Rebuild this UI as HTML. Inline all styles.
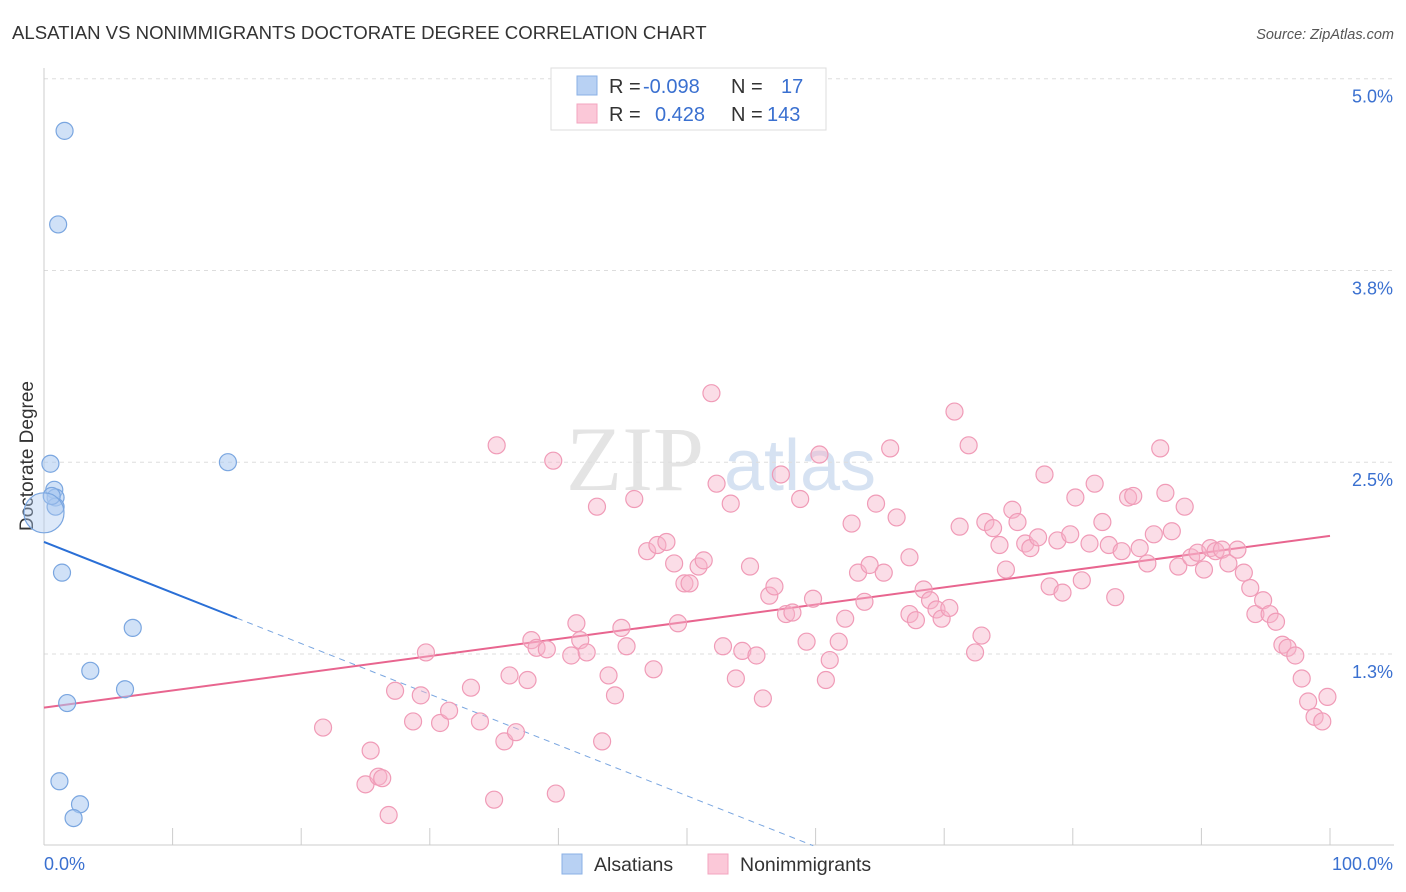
<!DOCTYPE html>
<html><head><meta charset="utf-8"><style>
body{margin:0;background:#fff;font-family:"Liberation Sans",sans-serif;}
svg{display:block}
</style></head><body>
<svg id="c" width="1406" height="892" xmlns="http://www.w3.org/2000/svg">
<text x="12" y="39" font-size="18.6" fill="#333">ALSATIAN VS NONIMMIGRANTS DOCTORATE DEGREE CORRELATION CHART</text>
<text x="1394" y="39" font-size="14.5" fill="#555" text-anchor="end" font-style="italic">Source: ZipAtlas.com</text>
<text x="33" y="456" font-size="19" fill="#333" text-anchor="middle" transform="rotate(-90 33 456)">Doctorate Degree</text>
<text x="635" y="490" font-size="92" fill="#e4e4e4" font-family="Liberation Serif,serif" text-anchor="middle">ZIP</text>
<text x="800" y="490" font-size="72" fill="#d6e2f2" text-anchor="middle">atlas</text>
<g id="grid"></g><g id="axes"></g><g id="lines"></g><g id="pts"></g>
<g>
<rect x="551" y="68" width="275" height="62" fill="#fff" stroke="#ddd"/>
<rect x="577" y="76" width="20" height="19" fill="#b8d1f3" stroke="#8ab0e6"/>
<rect x="577" y="104" width="20" height="19" fill="#fbc8d8" stroke="#f3a5bf"/>
<text x="609" y="93" font-size="20" fill="#333">R = <tspan x="643" fill="#3a70d0">-0.098</tspan></text>
<text x="731" y="93" font-size="20" fill="#333">N = <tspan x="781" fill="#3a70d0">17</tspan></text>
<text x="609" y="121" font-size="20" fill="#333">R = <tspan x="655" fill="#3a70d0">0.428</tspan></text>
<text x="731" y="121" font-size="20" fill="#333">N = <tspan x="767" fill="#3a70d0">143</tspan></text>
</g>
<g>
<rect x="562" y="854" width="20" height="20" fill="#b8d1f3" stroke="#8ab0e6"/>
<text x="594" y="871" font-size="19.5" fill="#333">Alsatians</text>
<rect x="708" y="854" width="20" height="20" fill="#fbc8d8" stroke="#f3a5bf"/>
<text x="740" y="871" font-size="19.5" fill="#333">Nonimmigrants</text>
</g>
</svg>
<script>
const blueX=[1.6,1.1,0.5,0.8,0.9,0.9,0.6,0.0,14.3,1.4,6.9,3.6,6.3,1.8,1.2,2.8,2.3];
const blueY=[4.66,4.05,2.49,2.32,2.27,2.21,2.28,2.17,2.50,1.78,1.42,1.14,1.02,0.93,0.42,0.27,0.18];
const pinkX=[21.7,25.4,25.0,26.0,26.3,26.8,27.3,28.7,29.3,29.7,30.8,31.5,33.2,33.9,35.0,35.2,35.8,36.2,36.7,37.6,37.9,38.3,39.1,39.6,39.8,41.0,41.4,41.7,42.2,43.0,43.4,43.9,44.4,44.9,45.3,45.9,46.9,47.4,47.7,48.4,49.0,49.3,49.8,50.2,50.9,51.3,51.9,52.3,52.8,53.4,53.8,54.3,54.9,55.4,55.9,56.4,56.8,57.3,57.7,58.2,58.8,59.3,59.8,60.3,60.8,61.1,61.8,62.3,62.8,63.3,63.8,64.2,64.7,65.3,65.8,66.3,67.3,67.3,67.8,68.4,68.9,69.4,69.8,70.4,70.8,71.2,71.9,72.4,72.9,73.2,73.8,74.3,74.8,75.3,75.7,76.3,76.7,77.3,77.8,78.2,78.8,79.2,79.8,80.2,80.7,81.3,81.7,82.3,82.8,83.3,83.8,84.3,84.7,85.2,85.8,86.3,86.8,87.2,87.7,88.2,88.7,89.2,89.7,90.2,90.7,91.1,91.6,92.1,92.8,93.3,93.8,94.2,94.8,95.3,95.8,96.3,96.7,97.3,97.8,98.3,98.8,99.4,99.8];
const pinkY=[0.77,0.62,0.40,0.45,0.44,0.20,1.01,0.81,0.98,1.26,0.80,0.88,1.03,0.81,0.30,2.61,0.68,1.11,0.74,1.08,1.34,1.29,1.28,2.51,0.34,1.24,1.45,1.34,1.26,2.21,0.68,1.11,0.98,1.42,1.30,2.26,1.92,1.15,1.96,1.98,1.84,1.45,1.71,1.71,1.82,1.86,2.95,2.36,1.30,2.23,1.09,1.27,1.82,1.24,0.96,1.63,1.69,2.42,1.51,1.52,2.26,1.33,1.61,2.55,1.08,1.21,1.33,1.48,2.10,1.78,1.59,1.83,2.23,1.78,2.59,2.14,1.51,1.88,1.47,1.67,1.60,1.54,1.48,1.55,2.83,2.08,2.61,1.26,1.37,2.11,2.07,1.96,1.80,2.19,2.11,1.97,1.94,2.01,2.42,1.69,1.99,1.65,2.03,2.27,1.73,1.97,2.36,2.11,1.96,1.62,1.92,2.27,2.28,1.94,1.84,2.03,2.59,2.30,2.05,1.82,2.21,1.88,1.91,1.80,1.94,1.92,1.93,1.84,1.93,1.78,1.68,1.51,1.60,1.51,1.46,1.31,1.29,1.24,1.09,0.94,0.84,0.81,0.97];
const blueTrend=[1.98,-0.0331];
const pinkTrend=[0.90,0.0112];
const yTicks=[1.25,2.5,3.75,5.0];
const yTickLabels=["1.3%","2.5%","3.8%","5.0%"];
const xTickLabels=["0.0%","100.0%"];
const NS="http://www.w3.org/2000/svg";
const sx=v=>44+v*12.86, sy=v=>845.7-v*153.4;
function mk(t,a,p){const e=document.createElementNS(NS,t);for(const k in a)e.setAttribute(k,a[k]);document.getElementById(p).appendChild(e);return e;}
yTicks.forEach((t,i)=>{
 const g=mk('line',{x1:44,x2:1394,y1:sy(t),y2:sy(t),stroke:'#ddd','stroke-dasharray':'4,4'},'grid');
 
 
 const l=mk('text',{x:1393,y:sy(t)+24,'font-size':18,fill:'#3a70d0','text-anchor':'end'},'axes');
 l.textContent=yTickLabels[i];
 
 
});
mk('line',{x1:44,x2:44,y1:68,y2:845,stroke:'#ccc'},'axes');
mk('line',{x1:44,x2:1394,y1:845,y2:845,stroke:'#ccc'},'axes');
for(let i=1;i<=10;i++){const t=mk('line',{x1:sx(i*10),x2:sx(i*10),y1:828,y2:845,stroke:'#ccc'},'axes');
 
 }
const xl0=mk('text',{x:44,y:870,'font-size':18,fill:'#3a70d0'},'axes');xl0.textContent=xTickLabels[0];


const xl1=mk('text',{x:1393,y:870,'font-size':18,fill:'#3a70d0','text-anchor':'end'},'axes');xl1.textContent=xTickLabels[1];


const bl=mk('line',{x1:sx(0),y1:sy(blueTrend[0]),x2:sx(15),y2:sy(blueTrend[0]+15*blueTrend[1]),stroke:'#2a6fd6','stroke-width':2},'lines');


const bx=-blueTrend[0]/blueTrend[1];
const bd=mk('line',{x1:sx(15),y1:sy(blueTrend[0]+15*blueTrend[1]),x2:sx(bx),y2:sy(0),stroke:'#7aa6e0','stroke-width':1,'stroke-dasharray':'6,5'},'lines');


const pl=mk('line',{x1:sx(0),y1:sy(pinkTrend[0]),x2:sx(100),y2:sy(pinkTrend[0]+100*pinkTrend[1]),stroke:'#e8658f','stroke-width':2},'lines');


pinkX.forEach((x,i)=>{const c=mk('circle',{cx:sx(x),cy:sy(pinkY[i]),r:8.5,fill:'rgba(247,180,202,0.45)',stroke:'#f09bb7','stroke-width':1.2},'pts');
 
 });
blueX.forEach((x,i)=>{const c=mk('circle',{cx:sx(x),cy:sy(blueY[i]),r:(x===0?20:8.5),fill:(x===0?'rgba(170,200,240,0.4)':'rgba(170,200,240,0.55)'),stroke:'#7aa6e0','stroke-width':1.2},'pts');
 
 });
</script>
</body></html>
